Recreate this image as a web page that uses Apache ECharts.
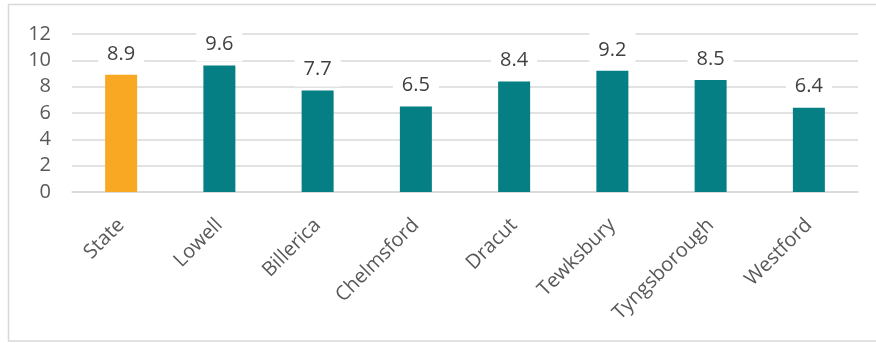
<!DOCTYPE html>
<html>
<head>
<meta charset="utf-8">
<script src="https://cdn.jsdelivr.net/npm/echarts@6/dist/echarts.min.js"></script>
<style>
html,body{margin:0;padding:0;background:#fff;}
#chart{width:876px;height:343px;}
</style>
</head>
<body>
<div id="chart"></div>
<script>
const categories = ['State','Lowell','Billerica','Chelmsford','Dracut','Tewksbury','Tyngsborough','Westford'];
const values = [8.9, 9.6, 7.7, 6.5, 8.4, 9.2, 8.5, 6.4];
const yTicks = [0, 2, 4, 6, 8, 10, 12];
const highlightCategory = 'State';

const chart = echarts.init(document.getElementById('chart'), null, {renderer:'canvas'});
const font = '"Open Sans", "Liberation Sans", sans-serif';
chart.setOption({
  animation: false,
  grid: {left: 72, right: 18, top: 34, bottom: 151, containLabel: false},
  graphic: [{
    type: 'rect',
    shape: {x: 8.5, y: 4.5, width: 880, height: 336.5},
    style: {fill: 'none', stroke: '#D9D9D9', lineWidth: 1.5},
    silent: true, z: -10
  }],
  xAxis: {
    type: 'category',
    data: categories,
    axisLine: {show: true, lineStyle: {color: '#D9D9D9', width: 1.5}},
    axisTick: {show: false},
    axisLabel: {rotate: 45, margin: 30, color: '#595959', fontSize: 20, fontFamily: font, interval: 0}
  },
  yAxis: {
    type: 'value',
    min: yTicks[0], max: yTicks[yTicks.length-1], interval: 2,
    axisLine: {show: false},
    axisTick: {show: false},
    splitLine: {lineStyle: {color: '#D9D9D9', width: 1.5}},
    axisLabel: {margin: 21, color: '#595959', fontSize: 20, fontFamily: font}
  },
  series: [{
    type: 'bar',
    barWidth: 32,
    data: values.map((v, i) => ({
      value: v,
      itemStyle: {color: categories[i] === highlightCategory ? '#F9A823' : '#067F84'}
    })),
    label: {
      show: true, position: 'top', distance: 4,
      color: '#404040', fontSize: 20, fontFamily: font,
      backgroundColor: '#fff', padding: [7, 9],
      formatter: p => p.value.toFixed(1)
    }
  }]
});
</script>
</body>
</html>
